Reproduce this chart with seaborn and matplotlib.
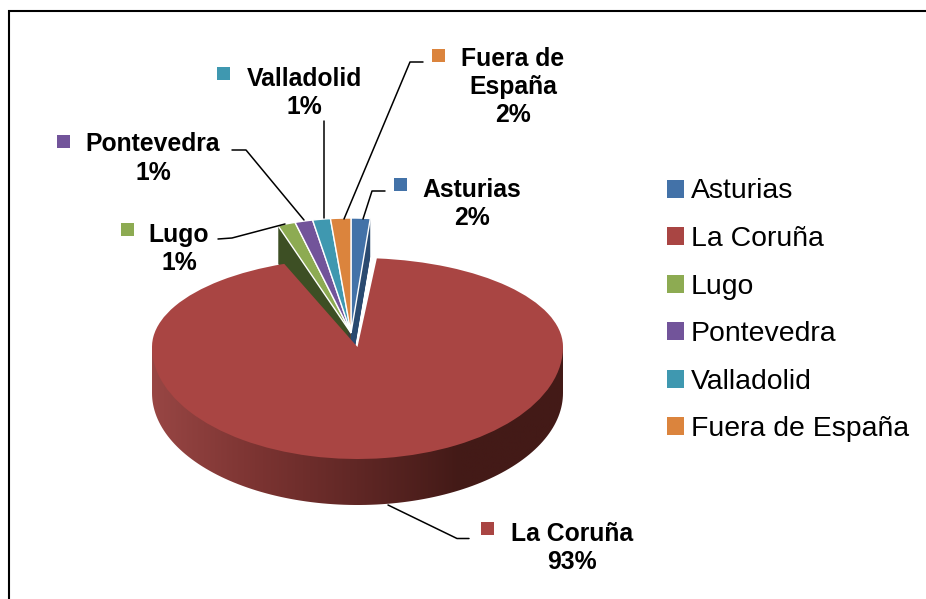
import numpy as np
import matplotlib
matplotlib.use('Agg')
import matplotlib.pyplot as plt
import seaborn as sns
from matplotlib.patches import Patch, PathPatch, Rectangle
from matplotlib.path import Path

provinces = ['Asturias', 'La Coruña', 'Lugo', 'Pontevedra', 'Valladolid', 'Fuera de España']
shares = [1.5, 92.7, 1.4, 1.4, 1.4, 1.6]
colors = ['#4372A8', '#A94543', '#8DAB52', '#72549A', '#3F98B0', '#DB843D']
dark_colors = ['#2A4A70', '#451A17', '#3D4F24', '#3A2C56', '#1F4F63', '#84501F']
label_names = ['Asturias', 'La Coruña', 'Lugo', 'Pontevedra', 'Valladolid', 'Fuera de\nEspaña']

W, H = 926, 599
label_pos = [(472, 204), (572, 548), (179, 249), (153, 158.5), (304, 93), (513, 87)]
marker_pos = [(400, 184), (487, 528), (127, 229), (63, 141), (223, 73), (438, 55)]
leaders = [[(363, 219), (372, 191), (385, 191)],
           [(388, 505), (457, 538.5), (469, 538.5)],
           [(285, 224), (232, 238), (218, 239)],
           [(304, 220), (246, 150), (232, 150)],
           [(324, 218), (324, 121)],
           [(344, 219), (410, 62), (423, 62)]]

sns.set_style('white')
plt.rcParams['font.family'] = ['Liberation Sans', 'DejaVu Sans']

fig = plt.figure(figsize=(W / 100, H / 100), dpi=100, facecolor='white')


def make_axes(k, cy, top=0, bottom=H):
    ax = fig.add_axes([0, 1 - bottom / H, 1, (bottom - top) / H])
    ax.patch.set_alpha(0)
    ax.axis('off')
    ax.k = k
    ax.cy = cy
    ax.span = (top, bottom)
    return ax


def draw_pie(ax, cx, face, depth=0, edge=None):
    props = {'linewidth': 0, 'clip_on': True}
    if edge:
        props = {'linewidth': edge, 'edgecolor': 'white', 'clip_on': True}
    ax.pie(shares, colors=face, center=(cx, -depth / ax.k), radius=ax.r, startangle=90,
           counterclock=False, wedgeprops=props)
    ax.set_aspect('auto')
    ax.set_xlim(0, W)
    ax.set_ylim((ax.cy - ax.span[1]) / ax.k, (ax.cy - ax.span[0]) / ax.k)
    ax.axis('off')


# small slices sit behind the big one and are drawn with their depth
back = make_axes(115 / 205, 333)
back.r = 205
side_face = [c if p != 'La Coruña' else 'none' for p, c in zip(provinces, dark_colors)]
top_face = [c if p != 'La Coruña' else 'none' for p, c in zip(provinces, colors)]
for d in range(38, 0, -1):
    draw_pie(back, 351, side_face, depth=d)
draw_pie(back, 351, top_face)
# white hairlines between the small slices, only where a small slice is drawn
for w in back.patches[-6:]:
    if w.get_facecolor()[3] > 0:
        w.set_edgecolor('white')
        w.set_linewidth(1.0)

# rim of the big slice, shaded left to right
cx, cy, rx, ry_up, ry_down, depth = 357.5, 347, 205.5, 89, 112, 46
rim = fig.add_axes([0, 0, 1, 1])
rim.patch.set_alpha(0)
rim.axis('off')
ramp = sns.blend_palette(['#984644', '#7C3432', '#602725', '#431A17', '#431A17'], as_cmap=True)
img = rim.imshow(np.linspace(0, 1, 256)[None, :], cmap=ramp, aspect='auto',
                 extent=(cx - rx, cx + rx, cy + ry_down + depth, cy))
t = np.linspace(np.pi, 0, 120)
outline = np.column_stack([cx + rx * np.cos(t), cy + depth + ry_down * np.sin(t)])
outline = np.vstack([[(cx - rx, cy)], outline, [(cx + rx, cy)], [(cx - rx, cy)]])
clip = PathPatch(Path(outline), transform=rim.transData, facecolor='none', edgecolor='none')
rim.add_patch(clip)
img.set_clip_path(clip)
rim.set_xlim(0, W)
rim.set_ylim(H, 0)

# top face of the big slice: the back half is flatter than the front half
red_face = [c if p == 'La Coruña' else 'none' for p, c in zip(provinces, colors)]
upper = make_axes(ry_up / rx, cy, 0, cy + 0.5)
upper.r = rx
draw_pie(upper, cx, red_face)
lower = make_axes(ry_down / rx, cy, cy, H)
lower.r = rx
draw_pie(lower, cx, red_face)

# labels, leader lines, legend and frame
ax = fig.add_axes([0, 0, 1, 1])
ax.patch.set_alpha(0)
ax.axis('off')
ax.set_xlim(0, W)
ax.set_ylim(H, 0)

ax.plot([8.8, 8.8, W], [H, 10.8, 10.8], color='black', lw=1.5, solid_joinstyle='miter')
for name, share, color, lp, mp, leader in zip(label_names, shares, colors, label_pos, marker_pos, leaders):
    ax.text(lp[0], lp[1], f'{name}\n{round(share + 0.01)}%', ha='center', va='center', ma='center',
            fontsize=17.8, fontweight='bold', color='black', linespacing=1.22)
    ax.add_patch(Rectangle((mp[0] - 6.5, mp[1] - 6.5), 13, 13, facecolor=color, edgecolor='none'))
    xs, ys = zip(*leader)
    ax.plot(xs, ys, color='black', lw=1.1)

handles = [Patch(facecolor=c, edgecolor='none') for c in colors]
ax.legend(handles, provinces, loc='upper left', bbox_to_anchor=(667 / W, 1 - 178.5 / H), frameon=False,
          fontsize=20.4, handlelength=0.6, handleheight=0.6, handletextpad=0.25,
          labelspacing=0.76, borderpad=0, borderaxespad=0, labelcolor='black')

fig.savefig('out.png', dpi=100, facecolor='white')
